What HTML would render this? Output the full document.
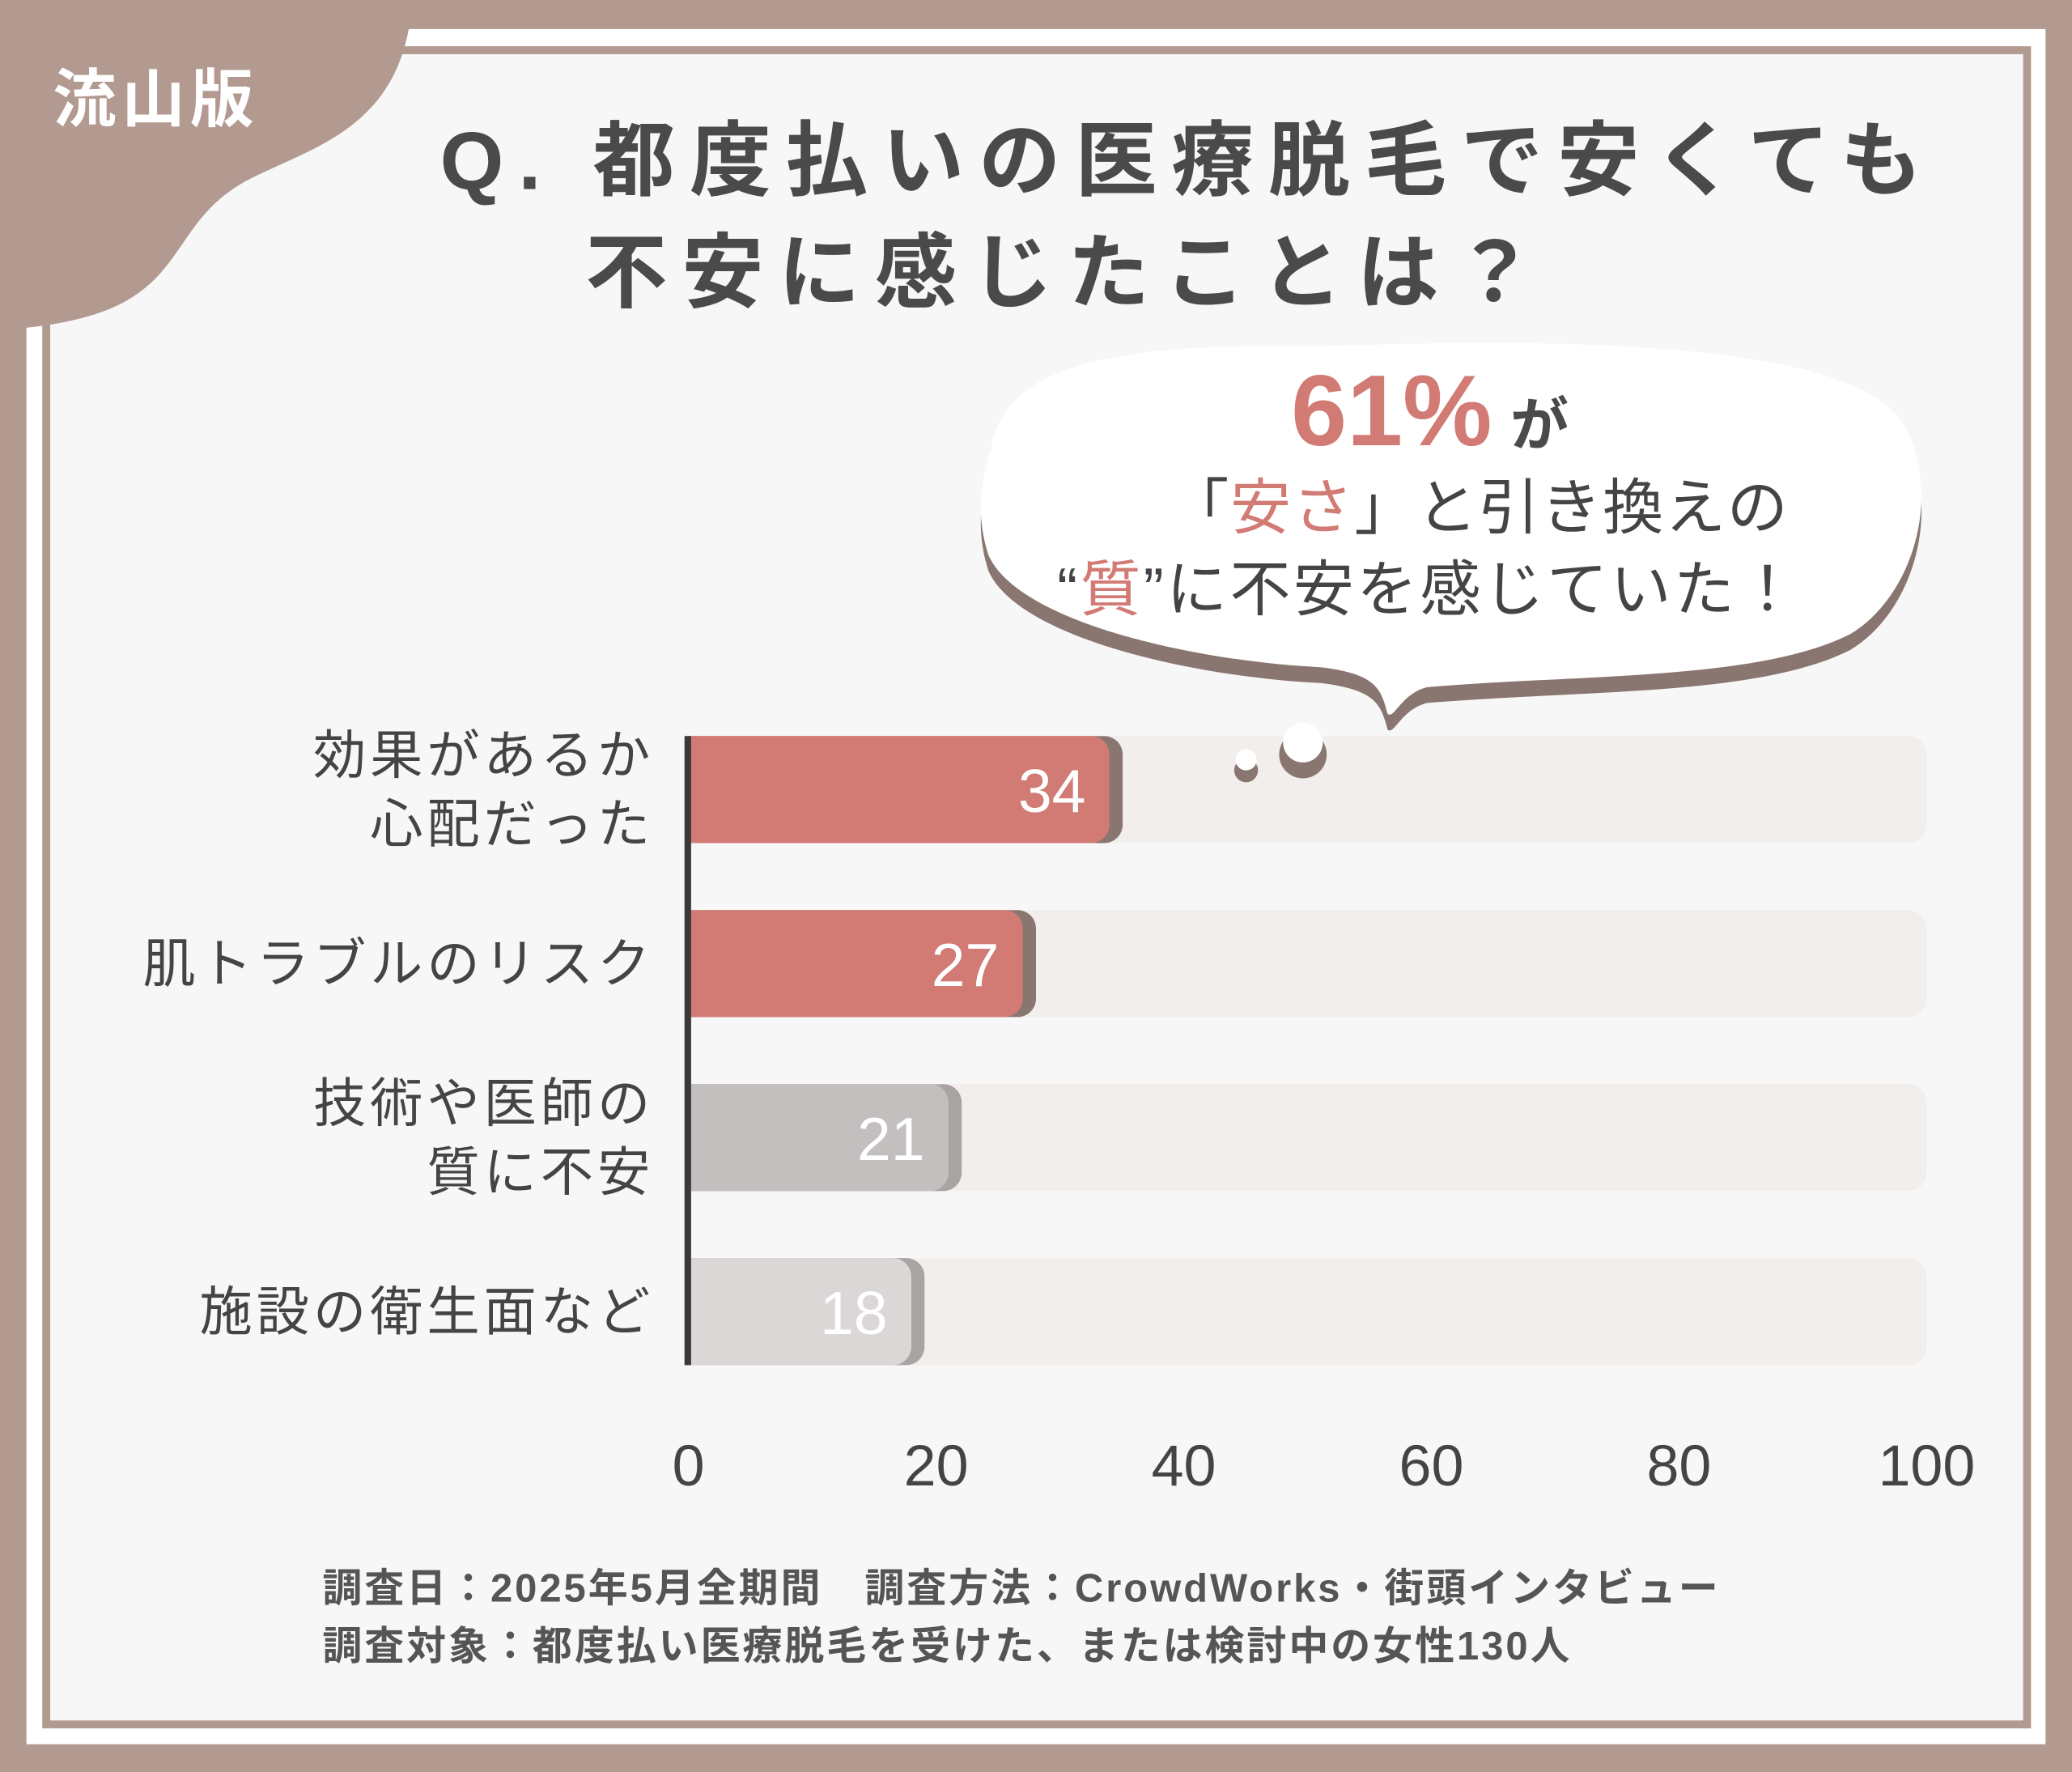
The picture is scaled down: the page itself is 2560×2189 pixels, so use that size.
<!DOCTYPE html>
<html><head><meta charset="utf-8"><style>
html,body{margin:0;padding:0;width:2560px;height:2189px;overflow:hidden;background:#b29a91}
svg{display:block}
text{font-family:"Liberation Sans","Noto Sans CJK JP",sans-serif}
</style></head><body>
<svg width="2560" height="2189" viewBox="0 0 1568 1341" preserveAspectRatio="none" xmlns="http://www.w3.org/2000/svg">
<rect x="0" y="0" width="1568" height="1341" fill="#b29a91"/>
<rect x="20" y="22" width="1528" height="1298" fill="#ffffff"/>
<rect x="35" y="38" width="1499" height="1267" fill="#f8f7f7" stroke="#b29a91" stroke-width="6"/>
<path d="M0,0 H312 C306,95 240,110 190,135 C140,160 140,200 100,225 C80,238 50,245 20,248 L0,250 Z" fill="#b29a91"/>
<text x="40" y="92" font-size="48" font-weight="bold" fill="#ffffff" letter-spacing="4">流山版</text>
<text x="333" y="143" font-size="62" font-weight="bold" fill="#4a4a4a" letter-spacing="11">Q. 都度払いの医療脱毛で安くても</text>
<text x="443" y="228" font-size="62" font-weight="bold" fill="#4a4a4a" letter-spacing="11">不安に感じたことは？</text>

<g id="chart"></g>

<g>
<path d="M750,340 C760,270 860,260 1000,262 C1200,255 1400,260 1440,320 C1470,370 1450,450 1400,480 C1330,515 1200,510 1080,520 C1060,525 1055,545 1050,540 C1045,520 1040,510 1000,505 C900,500 770,470 748,420 C740,395 740,370 750,340 Z" fill="#8a7670" transform="translate(0,12)"/>
<path d="M750,340 C760,270 860,260 1000,262 C1200,255 1400,260 1440,320 C1470,370 1450,450 1400,480 C1330,515 1200,510 1080,520 C1060,525 1055,545 1050,540 C1045,520 1040,510 1000,505 C900,500 770,470 748,420 C740,395 740,370 750,340 Z" fill="#ffffff"/>
<circle cx="986" cy="571" r="18" fill="#8a7670"/><circle cx="986" cy="562" r="15" fill="#ffffff"/>
<circle cx="943" cy="583" r="9" fill="#8a7670"/><circle cx="943" cy="575" r="8" fill="#ffffff"/>
<text x="977" y="337" font-size="76" font-weight="bold" fill="#d27a74">61%<tspan font-size="44" fill="#4a4a4a" dx="14">が</tspan></text>
<text x="884" y="400" font-size="46" fill="#444" letter-spacing="1">「<tspan fill="#d27a74">安さ</tspan>」と引き換えの</text>
<text x="800" y="462" font-size="46" fill="#444" letter-spacing="2">“<tspan fill="#d27a74">質</tspan>”に不安を感じていた！</text>
</g>

<text x="244" y="1212" font-size="30" font-weight="bold" fill="#555" letter-spacing="1.8">調査日：2025年5月全期間　調査方法：CrowdWorks・街頭インタビュー</text>
<text x="244" y="1256" font-size="30" font-weight="bold" fill="#555" letter-spacing="1.8">調査対象：都度払い医療脱毛を受けた、または検討中の女性130人</text>
</svg>
<script>
const categories = [["効果があるか","心配だった"],["肌トラブルのリスク"],["技術や医師の","質に不安"],["施設の衛生面など"]];
const values = [34, 27, 21, 18];
const barColors = ["#d27a74","#d27a74","#c3bfbe","#dad7d6"];
const ticks = [0, 20, 40, 60, 80, 100];

const NS = "http://www.w3.org/2000/svg";
const g = document.getElementById("chart");
const x0 = 521, x1 = 1458, yTop = 557, step = 131.7, bh = 81;
const xs = v => x0 + (x1 - x0) * v / 100;
const yb = i => yTop + i * step;
function mk(t, a){const e=document.createElementNS(NS,t);for(const k in a)e.setAttribute(k,a[k]);g.appendChild(e);return e;}

categories.forEach((c, i) => {
  const y = yb(i);
  const track = mk("rect",{x:x0,y:y,width:xs(100)-x0,height:bh,rx:14,fill:"#f1eeec"});
  
  
  const sh = mk("path",{d:`M${x0},${y} H${xs(values[i])-4} a14,14 0 0 1 14,14 V${y+bh-14} a14,14 0 0 1 -14,14 H${x0} Z`,fill:i<2?"#8a7670":"#a9a4a3"});
  
  
  const bar = mk("path",{d:`M${x0},${y} H${xs(values[i])-14} a14,14 0 0 1 14,14 V${y+bh-14} a14,14 0 0 1 -14,14 H${x0} Z`,fill:barColors[i]});
  
  
  const vt = mk("text",{x:xs(values[i])-18,y:y+bh/2+17,"font-size":46,"text-anchor":"end",fill:"#ffffff"});
  vt.textContent = values[i];
  
  
  const n = c.length;
  c.forEach((line, j) => {
    const t = mk("text",{x:495,y:y+bh/2+14+(j-(n-1)/2)*52,"font-size":40,"text-anchor":"end",fill:"#444","letter-spacing":3});
    t.textContent = line;
    
    
  });
});
const ax = mk("rect",{x:x0-3,y:yTop,width:5,height:yb(3)+bh-yTop,fill:"#3a3a3a"});


ticks.forEach(t => {
  const e = mk("text",{x:xs(t),y:1124,"font-size":44,"text-anchor":"middle",fill:"#444"});
  e.textContent = t;
  
  
});
</script>
</body></html>
